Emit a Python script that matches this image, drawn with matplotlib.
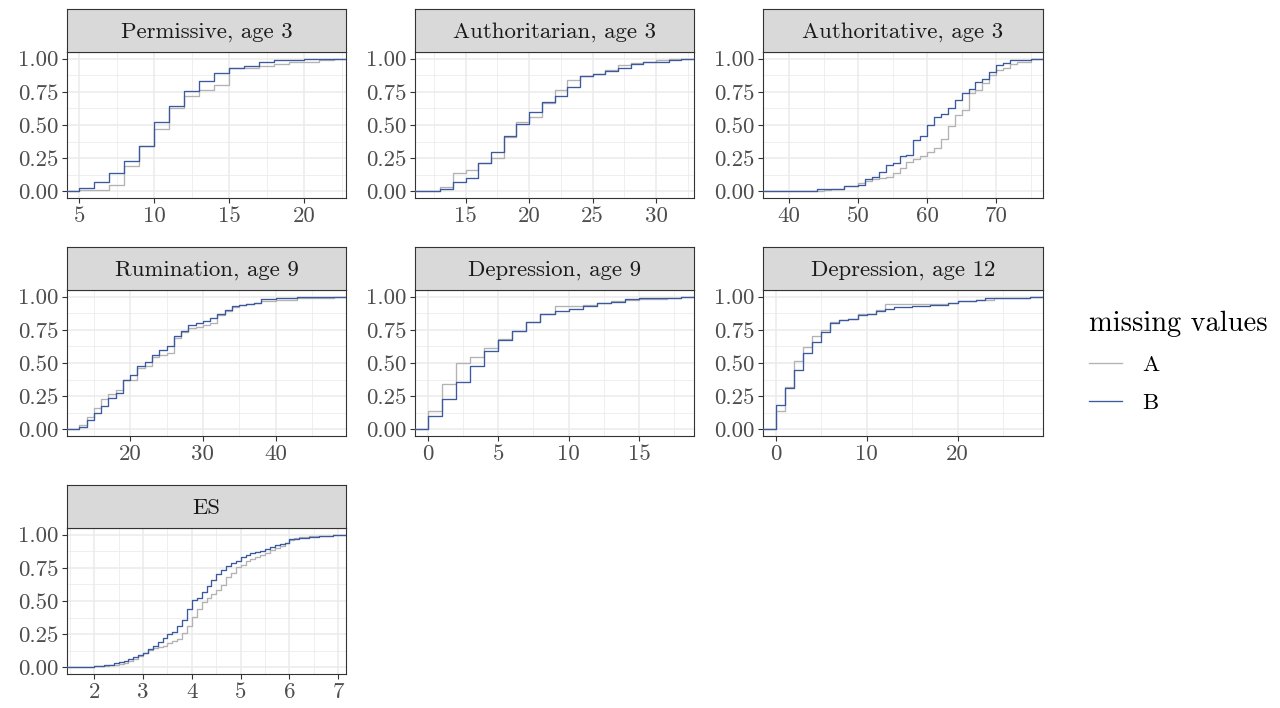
import matplotlib
matplotlib.use('Agg')
import matplotlib.pyplot as plt
import numpy as np
from matplotlib.lines import Line2D

# Computer Modern look (the reference was set with LaTeX)
plt.rcParams['font.family'] = ['cmr10', 'DejaVu Serif']
plt.rcParams['mathtext.fontset'] = 'cm'
plt.rcParams['axes.formatter.use_mathtext'] = True

# ---- data: ECDF steps per panel (x = value, a/b = cumulative proportion) ----
perm_x = [5, 6, 7, 8, 9, 10, 11, 12, 13, 14, 15, 16, 17, 18, 19, 20, 21, 22]
perm_a = [0.01, 0.01, 0.048, 0.19, 0.34, 0.47, 0.63, 0.717, 0.767, 0.80, 0.927,
          0.93, 0.942, 0.962, 0.972, 0.975, 0.987, 1.0]
perm_b = [0.023, 0.07, 0.14, 0.228, 0.34, 0.519, 0.642, 0.754, 0.832, 0.892, 0.927,
          0.942, 0.972, 0.987, 0.987, 0.995, 0.995, 1.0]

auth_x = [12, 13, 14, 15, 16, 17, 18, 19, 20, 21, 22, 23, 24, 25, 26, 27, 28, 29,
          30, 31, 32]
auth_a = [0.005, 0.03, 0.14, 0.158, 0.215, 0.248, 0.406, 0.526, 0.56, 0.667, 0.767,
          0.84, 0.872, 0.887, 0.912, 0.955, 0.967, 0.972, 0.987, 0.995, 1.0]
auth_b = [0.005, 0.015, 0.07, 0.10, 0.21, 0.30, 0.42, 0.51, 0.60, 0.677, 0.717,
          0.79, 0.867, 0.887, 0.91, 0.932, 0.962, 0.972, 0.977, 0.99, 1.0]

autv_x = [43, 44, 45, 46, 48, 50, 51, 52, 53, 54, 55, 56, 57, 58, 59, 60, 61, 62,
          63, 64, 65, 66, 67, 68, 69, 70, 71, 72, 73, 75]
autv_a = [0.005, 0.005, 0.01, 0.02, 0.037, 0.065, 0.08, 0.09, 0.098, 0.11, 0.14,
          0.175, 0.22, 0.245, 0.265, 0.295, 0.325, 0.396, 0.496, 0.576, 0.611,
          0.742, 0.767, 0.817, 0.88, 0.912, 0.93, 0.962, 0.972, 1.0]
autv_b = [0.005, 0.015, 0.015, 0.02, 0.04, 0.048, 0.09, 0.11, 0.148, 0.195, 0.21,
          0.265, 0.275, 0.386, 0.416, 0.50, 0.561, 0.586, 0.629, 0.687, 0.742,
          0.772, 0.822, 0.85, 0.897, 0.955, 0.967, 0.987, 0.99, 1.0]

rum_x = [13, 14, 15, 16, 17, 18, 19, 20, 21, 22, 23, 24, 25, 26, 27, 28, 29, 30,
         31, 32, 33, 34, 35, 36, 37, 38, 40, 43, 48]
rum_a = [0.033, 0.095, 0.163, 0.228, 0.27, 0.296, 0.37, 0.37, 0.459, 0.476, 0.546,
         0.561, 0.575, 0.685, 0.735, 0.76, 0.77, 0.79, 0.80, 0.86, 0.89, 0.92,
         0.935, 0.945, 0.955, 0.965, 0.975, 0.99, 1.0]
rum_b = [0.02, 0.07, 0.12, 0.175, 0.233, 0.276, 0.371, 0.409, 0.479, 0.509, 0.561,
         0.60, 0.63, 0.70, 0.742, 0.785, 0.80, 0.815, 0.84, 0.872, 0.897, 0.927,
         0.94, 0.947, 0.955, 0.98, 0.99, 0.995, 1.0]

dep9_x = [0, 1, 2, 3, 4, 5, 6, 7, 8, 9, 10, 11, 12, 13, 14, 15, 17, 18]
dep9_a = [0.138, 0.34, 0.50, 0.546, 0.614, 0.684, 0.74, 0.81, 0.872, 0.93, 0.93,
          0.935, 0.95, 0.965, 0.975, 0.985, 0.99, 1.0]
dep9_b = [0.10, 0.228, 0.358, 0.479, 0.591, 0.677, 0.742, 0.81, 0.872, 0.892, 0.91,
          0.927, 0.952, 0.96, 0.985, 0.99, 0.992, 1.0]

dep12_x = [0, 1, 2, 3, 4, 5, 6, 7, 8, 9, 10, 11, 12, 13, 15, 17, 19, 20, 22, 23,
           24, 26, 28]
dep12_a = [0.138, 0.316, 0.514, 0.622, 0.70, 0.752, 0.81, 0.827, 0.83, 0.872,
           0.872, 0.90, 0.942, 0.942, 0.947, 0.947, 0.955, 0.967, 0.972, 0.972,
           0.99, 0.99, 1.0]
dep12_b = [0.183, 0.308, 0.451, 0.576, 0.659, 0.734, 0.80, 0.822, 0.832, 0.865,
           0.872, 0.89, 0.91, 0.922, 0.93, 0.94, 0.955, 0.967, 0.972, 0.99, 0.99,
           0.992, 1.0]

es_x = [1.7, 2.0, 2.1, 2.2, 2.3, 2.4, 2.5, 2.6, 2.7, 2.8, 2.9, 3.0, 3.1, 3.2, 3.3,
        3.4, 3.5, 3.6, 3.7, 3.8, 3.9, 4.0, 4.1, 4.2, 4.3, 4.4, 4.5, 4.6, 4.7, 4.8,
        4.9, 5.0, 5.1, 5.2, 5.3, 5.4, 5.5, 5.6, 5.7, 5.8, 5.9, 6.0, 6.1, 6.2, 6.4,
        6.6, 6.9]
es_a = [0.003, 0.008, 0.01, 0.012, 0.015, 0.02, 0.025, 0.03, 0.05, 0.065, 0.085,
        0.105, 0.13, 0.145, 0.15, 0.16, 0.18, 0.20, 0.215, 0.26, 0.31, 0.38, 0.44,
        0.49, 0.52, 0.55, 0.58, 0.62, 0.68, 0.71, 0.755, 0.775, 0.80, 0.82, 0.835,
        0.85, 0.865, 0.885, 0.90, 0.915, 0.94, 0.96, 0.975, 0.985, 0.987, 0.99, 1.0]
es_b = [0.003, 0.008, 0.01, 0.015, 0.02, 0.03, 0.04, 0.045, 0.06, 0.075, 0.09,
        0.11, 0.135, 0.16, 0.19, 0.225, 0.25, 0.265, 0.31, 0.36, 0.44, 0.51, 0.52,
        0.565, 0.615, 0.655, 0.705, 0.735, 0.76, 0.79, 0.80, 0.835, 0.85, 0.86,
        0.87, 0.88, 0.895, 0.91, 0.92, 0.93, 0.94, 0.965, 0.97, 0.975, 0.985, 0.99,
        1.0]

titles = ['Permissive, age 3', 'Authoritarian, age 3', 'Authoritative, age 3',
          'Rumination, age 9', 'Depression, age 9', 'Depression, age 12', 'ES']
panels = [(perm_x, perm_a, perm_b), (auth_x, auth_a, auth_b),
          (autv_x, autv_a, autv_b), (rum_x, rum_a, rum_b),
          (dep9_x, dep9_a, dep9_b), (dep12_x, dep12_a, dep12_b),
          (es_x, es_a, es_b)]
xlims = [(4.18, 22.8), (11.0, 33.0), (36.2, 76.8), (11.3, 49.7), (-0.9, 18.9),
         (-1.4, 29.4), (1.44, 7.16)]
xmajor = [[5, 10, 15, 20], [15, 20, 25, 30], [40, 50, 60, 70], [20, 30, 40],
          [0, 5, 10, 15], [0, 10, 20], [2, 3, 4, 5, 6, 7]]
yticks = [0, 0.25, 0.5, 0.75, 1.0]
ylabels = ['0.00', '0.25', '0.50', '0.75', '1.00']

col_a = '#B3B3B3'
col_b = '#3B5A9D'

W, H = 1280, 708
fig = plt.figure(figsize=(12.8, 7.08), dpi=100)

cols = [(67, 346), (415, 694), (763, 1043)]
rows = [(9, 52, 198), (247, 290, 436), (485, 528, 674)]

def px_rect(l, t, r, b):
    return [l / W, 1 - b / H, (r - l) / W, (b - t) / H]

for i, (title, (xs, ya, yb)) in enumerate(zip(titles, panels)):
    l, r = cols[i % 3]
    st, t, b = rows[i // 3]
    ax = fig.add_axes(px_rect(l, t, r, b))
    x0, x1 = xlims[i]
    # pad the ecdf to -Inf / Inf like stat_ecdf
    xx = [x0 - 100] + list(xs) + [x1 + 100]
    ax.step(xx, [0] + list(ya) + [1.0], where='post', color=col_a, lw=0.95, zorder=3)
    ax.step(xx, [0] + list(yb) + [1.0], where='post', color=col_b, lw=0.95, zorder=4)

    maj = xmajor[i]
    step = maj[1] - maj[0]
    minors = [m + step / 2 for m in [maj[0] - step] + maj]
    ax.set_xticks(maj)
    ax.set_xticklabels([str(m) for m in maj])
    ax.set_xticks(minors, minor=True)
    ax.set_yticks(yticks)
    ax.set_yticklabels(ylabels)
    ax.set_yticks([0.125, 0.375, 0.625, 0.875], minor=True)
    # limits after ticks, otherwise the outer minor ticks widen the view
    ax.set_xlim(x0, x1)
    ax.set_ylim(-0.05, 1.05)
    ax.grid(True, which='major', color='#EBEBEB', lw=1.1, zorder=0)
    ax.grid(True, which='minor', color='#EBEBEB', lw=0.55, zorder=0)
    ax.set_axisbelow(True)
    ax.tick_params(which='minor', length=0)
    ax.tick_params(which='major', length=3.5, width=0.8, color='#333333',
                   labelcolor='#4D4D4D', labelsize=16.5, pad=2.5)
    for s in ax.spines.values():
        s.set_color('#333333')
        s.set_linewidth(0.8)

    # facet strip
    sax = fig.add_axes(px_rect(l, st, r, t))
    sax.set_facecolor('#D9D9D9')
    sax.set_xticks([])
    sax.set_yticks([])
    for s in sax.spines.values():
        s.set_color('#333333')
        s.set_linewidth(0.8)
    sax.text(0.5, 0.47, title, ha='center', va='center', fontsize=16.4,
             color='#1A1A1A', transform=sax.transAxes)

handles = [Line2D([], [], color=col_a, lw=0.95), Line2D([], [], color=col_b, lw=0.95)]
leg = fig.legend(handles, ['A', 'B'], title='missing values', loc='upper left',
                 bbox_to_anchor=(1068 / W, 1 - 290 / H), frameon=False,
                 fontsize=16.5, title_fontsize=20.5, handlelength=1.45,
                 handletextpad=0.9, labelspacing=0.78, alignment='left')

fig.savefig('out.png', dpi=100)
